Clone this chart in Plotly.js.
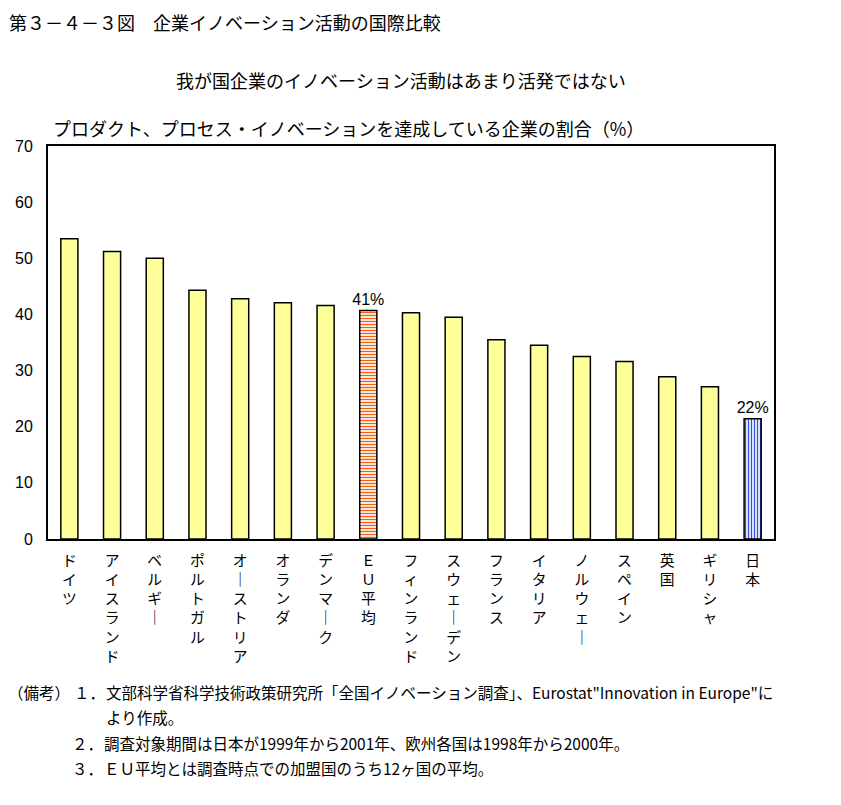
<!DOCTYPE html>
<html>
<head>
<meta charset="utf-8">
<script src="https://cdn.plot.ly/plotly-3.0.1.min.js"></script>
<style>
html,body{margin:0;padding:0;background:#fff;}
#chart{width:841px;height:805px;}
</style>
</head>
<body>
<div id="chart"></div>
<script>
const categories = ["ドイツ","アイスランド","ベルギー","ポルトガル","オーストリア","オランダ","デンマーク","ＥＵ平均","フィンランド","スウェーデン","フランス","イタリア","ノルウェー","スペイン","英国","ギリシャ","日本"];
const values = [53.5, 51.2, 50.0, 44.3, 42.8, 42.1, 41.6, 40.7, 40.3, 39.5, 35.5, 34.5, 32.5, 31.6, 28.9, 27.1, 21.4];
const valueLabels = ["","","","","","","","41%","","","","","","","","","22%"];
const yTicks = [0, 10, 20, 30, 40, 50, 60, 70];

const EU = "ＥＵ平均";
const JP = "日本";

const FONT = "'Noto Sans CJK JP', 'Noto Sans', sans-serif";
const NUMFONT = "'Liberation Sans Narrow', 'Liberation Sans', sans-serif";

function verticalLabel(s){
  return s.split("").map(c => c === "ー" ? "｜" : c).join("<br>");
}
function pick(fn){ return values.map((v, i) => fn(categories[i]) ? v : null); }
function pickText(fn){ return valueLabels.map((t, i) => fn(categories[i]) ? t : ""); }

function barTrace(sel, marker){
  return {
    type: "bar",
    x: categories,
    y: pick(sel),
    text: pickText(sel),
    textposition: "outside",
    constraintext: "none",
    cliponaxis: false,
    textfont: {family: NUMFONT, size: 16, color: "#000"},
    outsidetextfont: {family: NUMFONT, size: 16, color: "#000"},
    marker: marker,
    width: 0.4,
    hoverinfo: "x+y"
  };
}

const traces = [
  barTrace(c => c !== EU && c !== JP, {color: "#FFFF99", line: {color: "#000", width: 1.5}}),
  barTrace(c => c === EU, {color: "#ffffff", line: {color: "#000", width: 1.5},
    pattern: {shape: "-", fgcolor: "#F06010", bgcolor: "#ffffff", size: 3, solidity: 0.45}}),
  barTrace(c => c === JP, {color: "#ffffff", line: {color: "#000", width: 1.5},
    pattern: {shape: "|", fgcolor: "#2E50E0", bgcolor: "#ffffff", size: 3, solidity: 0.45}})
];

const L = -48/726;
function note(text, xpx, ypx){
  return {text: text, xref: "paper", yref: "paper", x: L, xshift: xpx, y: 0, yshift: -(ypx-539), xanchor: "left", yanchor: "middle", showarrow: false, font: {family: FONT, size: 15.5, color: "#000"}};
}

const layout = {
  width: 841, height: 805,
  margin: {l: 48, r: 67, t: 146, b: 266},
  paper_bgcolor: "#fff", plot_bgcolor: "#fff",
  showlegend: false,
  barmode: "overlay",
  font: {family: FONT, color: "#000", size: 14},
  xaxis: {
    type: "category",
    tickmode: "array",
    tickvals: categories,
    ticktext: categories.map(verticalLabel),
    ticks: "",
    ticklabelstandoff: 7,
    showgrid: false,
    showline: true, linecolor: "#000", linewidth: 2, mirror: true,
    tickfont: {family: FONT, size: 14.8, color: "#000"},
    zeroline: false
  },
  yaxis: {
    range: [0, 70],
    tickmode: "array",
    tickvals: yTicks,
    ticktext: yTicks.map(String),
    ticks: "",
    ticklabelstandoff: 10,
    showgrid: false,
    zeroline: false,
    showline: true, linecolor: "#000", linewidth: 2, mirror: true,
    tickfont: {family: NUMFONT, size: 16, color: "#000"}
  },
  annotations: [
    {text: "第３－４－３図　企業イノベーション活動の国際比較", xref: "paper", yref: "paper", x: L, xshift: 7, y: 1, yshift: 146-22, xanchor: "left", yanchor: "middle", showarrow: false, font: {family: FONT, size: 18, color: "#000"}},
    {text: "我が国企業のイノベーション活動はあまり活発ではない", xref: "paper", yref: "paper", x: (401-48)/726, y: 1, yshift: 146-80, xanchor: "center", yanchor: "middle", showarrow: false, font: {family: FONT, size: 18, color: "#000"}},
    {text: "プロダクト、プロセス・イノベーションを達成している企業の割合（%）", xref: "paper", yref: "paper", x: 0, xshift: 3, y: 1, yshift: 146-128, xanchor: "left", yanchor: "middle", showarrow: false, font: {family: FONT, size: 18, color: "#000"}},
    note("（備考）", 6, 692),
    note("１．", 72, 692),
    note("文部科学省科学技術政策研究所「全国イノベーション調査」、Eurostat\"Innovation in Europe\"に", 104, 692),
    note("より作成。", 104, 717),
    note("２．", 70, 743),
    note("調査対象期間は日本が1999年から2001年、欧州各国は1998年から2000年。", 102, 743),
    note("３．", 70, 768),
    note("ＥＵ平均とは調査時点での加盟国のうち12ヶ国の平均。", 102, 768)
  ]
};

Plotly.newPlot("chart", traces, layout, {displayModeBar: false, staticPlot: true});
</script>
</body>
</html>
